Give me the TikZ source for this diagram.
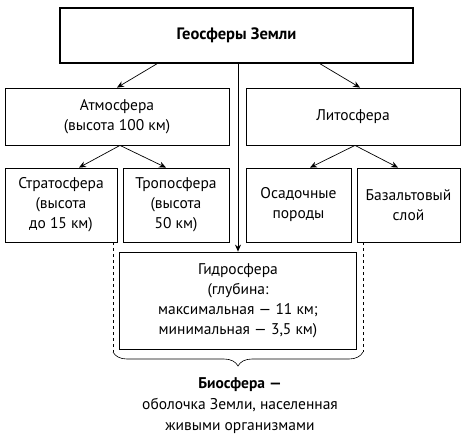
\documentclass[tikz,border=0pt]{standalone}
\usepackage{fontspec}
\setmainfont{PT Sans}
\usetikzlibrary{arrows.meta,decorations.pathreplacing}

\tikzset{
  sphere/.style={draw, line width=0.8pt, align=center, inner sep=2pt,
    font=\fontsize{15.5}{20}\selectfont},
  link/.style={-{Stealth[length=7pt,width=6pt]}, line width=0.7pt}
}

\begin{document}
\begin{tikzpicture}[x=1pt, y=-1pt]
  \useasboundingbox (0,0) rectangle (465,445);

  \node (geo) [sphere, line width=1.5pt, minimum width=353pt, minimum height=55pt,
    font=\fontsize{16.5}{20}\selectfont]
    at (236.5,35.5) {\textbf{Геосферы Земли}};
  \node (atm) [sphere, minimum width=224pt, minimum height=57pt]
    at (117,116.5) {Атмосфера\\(высота 100 км)};
  \node (lit) [sphere, minimum width=214pt, minimum height=57pt]
    at (353,116.5) {Литосфера};

  \node (strat) [sphere, minimum width=112pt, minimum height=74pt]
    at (61,205) {Стратосфера\\(высота\\до 15 км)};
  \node (trop) [sphere, minimum width=106pt, minimum height=74pt]
    at (176,205) {Тропосфера\\(высота\\50 км)};
  \node (osad) [sphere, minimum width=105pt, minimum height=74pt]
    at (298.5,205) {Осадочные\\породы};
  \node (bas) [sphere, minimum width=103pt, minimum height=74pt]
    at (408.5,205) {Базальтовый\\слой};

  \node (hyd) [sphere, minimum width=237pt, minimum height=97pt]
    at (238,300.5) {Гидросфера\\(глубина:\\максимальная — 11 км;\\минимальная — 3,5 км)};

  \node (bio) [align=center, font=\fontsize{15.5}{21}\selectfont] at (240,406)
    {\textbf{Биосфера —}\\оболочка Земли, населенная\\живыми организмами};

  \draw[link] (geo.south -| 157,0) -- (atm.north -| 117,0);
  \draw[link] (geo.south -| 320,0) -- (lit.north -| 360,0);
  \draw[link] (geo.south -| hyd.north) -- (hyd.north);

  \draw[link] (atm.south -| 120,0) -- (strat.north -| 79,0);
  \draw[link] (atm.south -| 120,0) -- (trop.north -| 166,0);
  \draw[link] (lit.south -| 355,0) -- (osad.north -| 310,0);
  \draw[link] (lit.south -| 355,0) -- (bas.north -| 398,0);

  % biosphere brace
  \coordinate (bl) at (113,352);
  \coordinate (br) at (363,352);
  \draw[dashed, line width=0.6pt] (strat.south -| bl) -- (bl);
  \draw[dashed, line width=0.6pt] (bas.south -| br) -- (br);
  \draw[line width=0.6pt, decorate, decoration={brace, mirror, amplitude=14pt}]
    (bl) -- (br);
\end{tikzpicture}
\end{document}
